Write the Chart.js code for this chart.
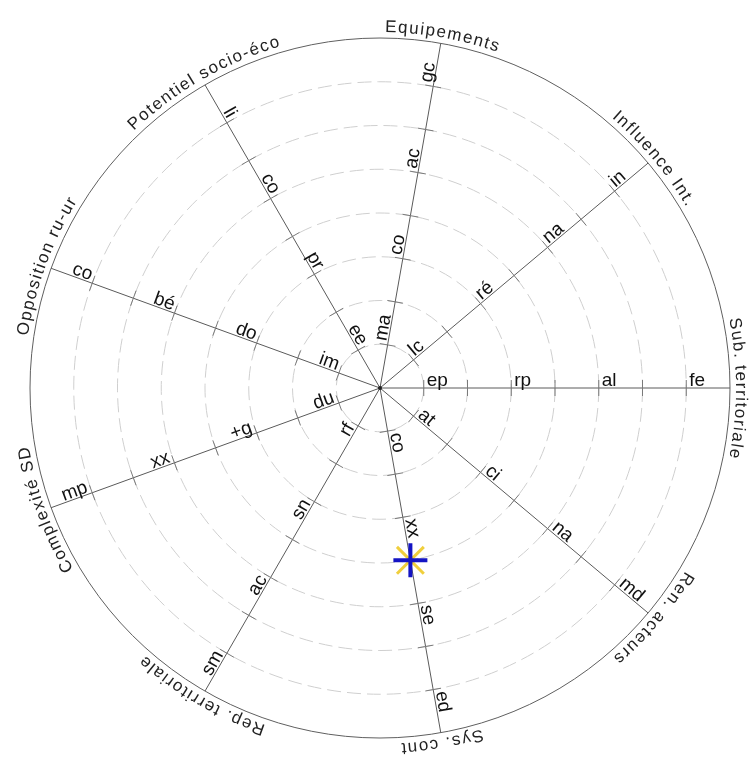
<!DOCTYPE html>
<html>
<head>
<meta charset="utf-8">
<script src="https://cdn.jsdelivr.net/npm/chart.js@4.4.1/dist/chart.umd.min.js"></script>
<style>
  html, body { margin: 0; padding: 0; background: #fff; }
  #wrap { width: 751px; height: 760px; }
</style>
</head>
<body>
<div id="wrap"><canvas id="radar"></canvas></div>
<script>
// axes, clockwise starting at the right (east)
const axes = ['Sub. territoriale', 'Ren. acteurs', 'Sys. cont', 'Rep. territoriale',
  'Complexité SD', 'Opposition ru-ur', 'Potentiel socio-éco', 'Equipements', 'Influence Int.'];

// codes written along each axis, at rings 1, 3, 5, 7
const codeLevels = [1, 3, 5, 7];
const subTerr = ['ep', 'rp', 'al', 'fe'];
const renAct = ['at', 'ci', 'na', 'md'];
const sysCont = ['co', 'xx', 'se', 'ed'];
const repTerr = ['rf', 'sn', 'ac', 'sm'];
const complexSD = ['du', '+g', 'xx', 'mp'];
const oppRuUr = ['im', 'do', 'bé', 'co'];
const potSocio = ['ee', 'pr', 'co', 'li'];
const equip = ['ma', 'co', 'ac', 'gc'];
const inflInt = ['lc', 'ré', 'na', 'in'];
const codes = [subTerr, renAct, sysCont, repTerr, complexSD, oppRuUr, potSocio, equip, inflInt];

const scaleMax = 8;
// the single marked position (on Sys. cont)
const position = [null, null, 4, null, null, null, null, null, null];

const FONT = '"Liberation Sans", Arial, sans-serif';

const radarDecor = {
  id: 'radarDecor',
  beforeDatasetsDraw(chart) {
    const sc = chart.scales.r;
    const ctx = chart.ctx;
    ctx.save();
    // small ticks across every axis at each ring
    ctx.strokeStyle = '#7a7a7a';
    ctx.lineWidth = 1;
    axes.forEach((name, i) => {
      const a = sc.getIndexAngle(i) - Math.PI / 2;
      const nx = -Math.sin(a), ny = Math.cos(a);
      for (let v = 1; v < scaleMax; v++) {
        const p = sc.getPointPositionForValue(i, v);
        ctx.beginPath();
        ctx.moveTo(p.x - nx * 8, p.y - ny * 8);
        ctx.lineTo(p.x + nx * 8, p.y + ny * 8);
        ctx.stroke();
      }
    });

    // codes
    ctx.fillStyle = '#111';
    ctx.font = '19px ' + FONT;
    ctx.textBaseline = 'alphabetic';
    axes.forEach((name, i) => {
      const a = sc.getIndexAngle(i) - Math.PI / 2;
      const flip = Math.cos(a) < -0.01;
      codes[i].forEach((txt, j) => {
        const p = sc.getPointPositionForValue(i, codeLevels[j]);
        ctx.save();
        ctx.translate(p.x, p.y);
        if (flip) {
          ctx.rotate(a + Math.PI);
          ctx.textAlign = 'right';
          ctx.fillText(txt, -3, -2);
        } else {
          ctx.rotate(a);
          ctx.textAlign = 'left';
          ctx.fillText(txt, 3, -2);
        }
        ctx.restore();
      });
    });

    // centre dot
    ctx.fillStyle = '#222';
    ctx.beginPath();
    ctx.arc(sc.xCenter, sc.yCenter, 2, 0, Math.PI * 2);
    ctx.fill();

    // axis titles bent along the outer circle
    ctx.font = '17px ' + FONT;
    ctx.textAlign = 'center';
    const rT = sc.drawingArea + 6;
    const gap = 1.5;
    axes.forEach((name, i) => {
      const a = sc.getIndexAngle(i) - Math.PI / 2;
      const chars = Array.from(name);
      const widths = chars.map(c => ctx.measureText(c).width);
      const total = widths.reduce((s, w) => s + w, 0) + gap * (chars.length - 1);
      let pos = 0;
      const start = a - total / (2 * rT);
      chars.forEach((c, k) => {
        const mid = start + (pos + widths[k] / 2) / rT;
        ctx.save();
        ctx.translate(sc.xCenter + rT * Math.cos(mid), sc.yCenter + rT * Math.sin(mid));
        ctx.rotate(mid + Math.PI / 2);
        ctx.fillText(c, 0, 0);
        ctx.restore();
        pos += widths[k] + gap;
      });
    });
    ctx.restore();
  }
};

new Chart(document.getElementById('radar'), {
  type: 'radar',
  data: {
    labels: axes,
    datasets: [
      {
        label: 'position',
        data: position,
        showLine: false,
        pointStyle: 'cross',
        pointRadius: 17,
        pointBorderWidth: 4,
        pointBorderColor: '#1414c4',
        pointBackgroundColor: '#1414c4'
      },
      {
        label: 'position-x',
        data: position,
        showLine: false,
        pointStyle: 'crossRot',
        pointRadius: 19,
        pointBorderWidth: 3,
        pointBorderColor: '#f0cf3c',
        pointBackgroundColor: '#f0cf3c'
      }
    ]
  },
  options: {
    responsive: true,
    maintainAspectRatio: false,
    animation: false,
    layout: { padding: { left: 30, right: 20, top: 38, bottom: 21 } },
    plugins: { legend: { display: false }, tooltip: { enabled: false } },
    scales: {
      r: {
        startAngle: 90,
        min: 0,
        max: scaleMax,
        ticks: { display: false, stepSize: 1 },
        pointLabels: { display: false },
        angleLines: { color: '#5a5a5a', lineWidth: 1 },
        grid: {
          circular: true,
          lineWidth: 1,
          color: ctx => ctx.index === scaleMax ? '#5f5f5f' : '#cfcfcf'
        },
        border: {
          dash: ctx => ctx.index === scaleMax ? [] : [14, 6]
        }
      }
    }
  },
  plugins: [radarDecor]
});
</script>
</body>
</html>
